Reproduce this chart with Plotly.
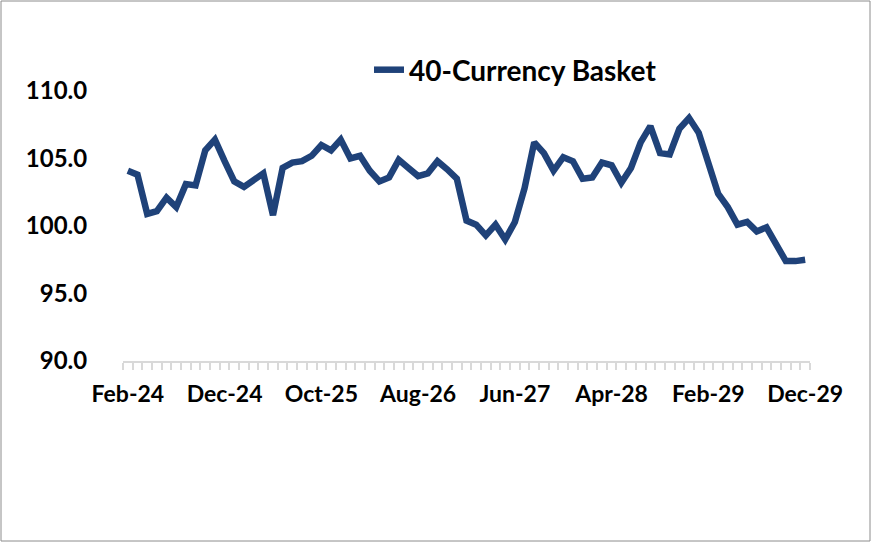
import pandas as pd
import plotly.graph_objects as go

# monthly index values, Feb-24 .. Dec-29
months = pd.date_range("2024-02-01", "2029-12-01", freq="MS").strftime("%b-%y").tolist()

basket = [
    104.1, 103.8, 100.9, 101.1, 102.1, 101.4, 103.1, 103.0, 105.6, 106.4,
    104.8, 103.3, 102.9, 103.4, 103.9, 100.8, 104.3, 104.7, 104.8, 105.2,
    106.0, 105.6, 106.4, 105.0, 105.2, 104.1, 103.3, 103.6, 104.9, 104.3,
    103.7, 103.9, 104.8, 104.2, 103.5, 100.4, 100.1, 99.3, 100.1, 99.0,
    100.3, 102.8, 106.2, 105.4, 104.1, 105.1, 104.8, 103.5, 103.6, 104.7,
    104.5, 103.2, 104.3, 106.2, 107.4, 105.4, 105.3, 107.2, 108.0, 106.9,
    104.6, 102.4, 101.4, 100.1, 100.3, 99.6, 99.9, 98.7, 97.4, 97.4, 97.5,
]

tick_idx = list(range(0, len(months), 10))
tick_txt = [months[i] for i in tick_idx]
y_ticks = [90, 95, 100, 105, 110]

def bold(size):
    return dict(family="Lato", size=size, color="black", weight="bold")

fig = go.Figure()
fig.add_trace(go.Scatter(
    x=list(range(len(months))), y=basket, mode="lines",
    name="40-Currency Basket",
    line=dict(color="#1F4279", width=6.5),
))

l, r, t, b = 123, 61, 91, 184
pw, ph = 871 - l - r, 545 - t - b

fig.update_layout(
    width=871, height=545,
    margin=dict(l=l, r=r, t=t, b=b),
    paper_bgcolor="white", plot_bgcolor="white",
    font=bold(23),
    showlegend=True,
    legend=dict(x=(369 - l) / pw, xanchor="left", y=(361 - 70) / ph, yanchor="middle",
                orientation="h", font=bold(28),
                bgcolor="rgba(0,0,0,0)"),
    shapes=[dict(type="rect", xref="paper", yref="paper",
                 x0=-(l - 1) / pw, x1=(870 - l) / pw,
                 y0=-(541 - 361) / ph, y1=(361 - 1) / ph,
                 line=dict(color="#8c8c8c", width=1))],
)

fig.update_xaxes(
    range=[-0.5, len(months) - 0.5],
    tickmode="array", tickvals=tick_idx, ticktext=tick_txt,
    ticks="outside", ticklen=11, tickcolor="rgba(0,0,0,0)",
    showline=True, linecolor="#d9d9d9", linewidth=2,
    showgrid=False, zeroline=False,
    minor=dict(ticks="outside", tick0=-0.5, dtick=1, ticklen=7,
               tickcolor="#d9d9d9", tickwidth=1.5, showgrid=False),
    tickfont=bold(23),
)
fig.update_yaxes(
    range=[90, 110], tickvals=y_ticks, tickformat=".1f",
    ticks="outside", ticklen=30, tickcolor="rgba(0,0,0,0)",
    showgrid=False, zeroline=False, showline=False,
    tickfont=bold(24),
)

fig.write_html("out.html", config={"displayModeBar": False},
               post_script="document.body.style.margin='0';")
